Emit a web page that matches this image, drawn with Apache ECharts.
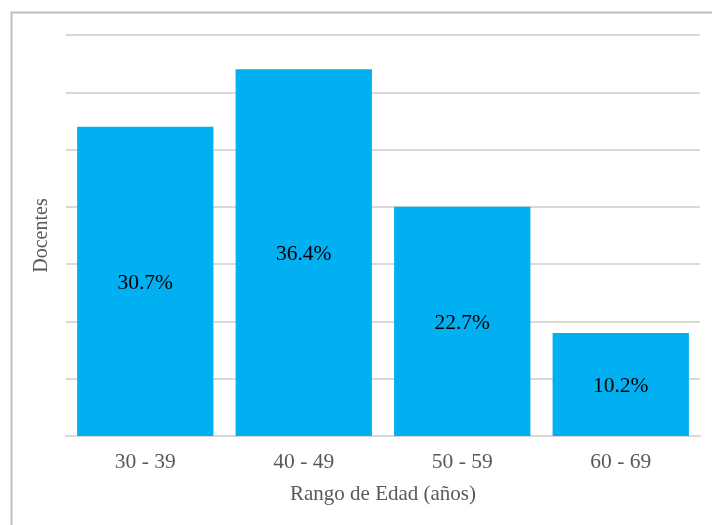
<!DOCTYPE html>
<html>
<head>
<meta charset="utf-8">
<script src="https://cdn.jsdelivr.net/npm/echarts@6/dist/echarts.min.js"></script>
<style>
  html, body { margin: 0; padding: 0; background: #fff; }
  #chart { width: 712px; height: 525px; }
</style>
</head>
<body>
<div id="chart"></div>
<script>
// Teachers grouped by age range
const categories = ['30 - 39', '40 - 49', '50 - 59', '60 - 69'];
const docentes = [27, 32, 20, 9];
const yMax = 35;
const yInterval = 5;

const total = docentes.reduce((a, b) => a + b, 0);
const serif = '"Liberation Serif", "Times New Roman", serif';

const chart = echarts.init(document.getElementById('chart'), null, { renderer: 'canvas' });

chart.setOption({
  backgroundColor: '#ffffff',
  animation: false,
  graphic: [{
    type: 'rect',
    shape: { x: 11.5, y: 12.5, width: 760, height: 560 },
    style: { fill: 'none', stroke: '#bfbfbf', lineWidth: 2 },
    silent: true
  }],
  grid: { left: 66, right: 12, top: 35, bottom: 89 },
  xAxis: {
    type: 'category',
    data: categories,
    name: 'Rango de Edad (años)',
    nameLocation: 'middle',
    nameGap: 48,
    nameTextStyle: { fontFamily: serif, fontSize: 21, color: '#595959' },
    axisLine: { lineStyle: { color: '#d9d9d9', width: 2 } },
    axisTick: { show: false },
    axisLabel: { fontFamily: serif, fontSize: 21.5, color: '#595959', margin: 15 }
  },
  yAxis: {
    type: 'value',
    min: 0,
    max: yMax,
    interval: yInterval,
    name: 'Docentes',
    nameLocation: 'middle',
    nameGap: 14,
    nameRotate: 90,
    nameTextStyle: { fontFamily: serif, fontSize: 20, color: '#595959' },
    axisLine: { show: false },
    axisTick: { show: false },
    axisLabel: { show: false },
    splitLine: { lineStyle: { color: '#d9d9d9', width: 2 } }
  },
  series: [{
    type: 'bar',
    data: docentes,
    barCategoryGap: '14%',
    itemStyle: { color: '#00b0f0' },
    label: {
      show: true,
      position: 'inside',
      offset: [0, 2],
      fontFamily: serif,
      fontSize: 21.5,
      color: '#000000',
      formatter: p => (p.value / total * 100).toFixed(1) + '%'
    }
  }]
});
</script>
</body>
</html>
